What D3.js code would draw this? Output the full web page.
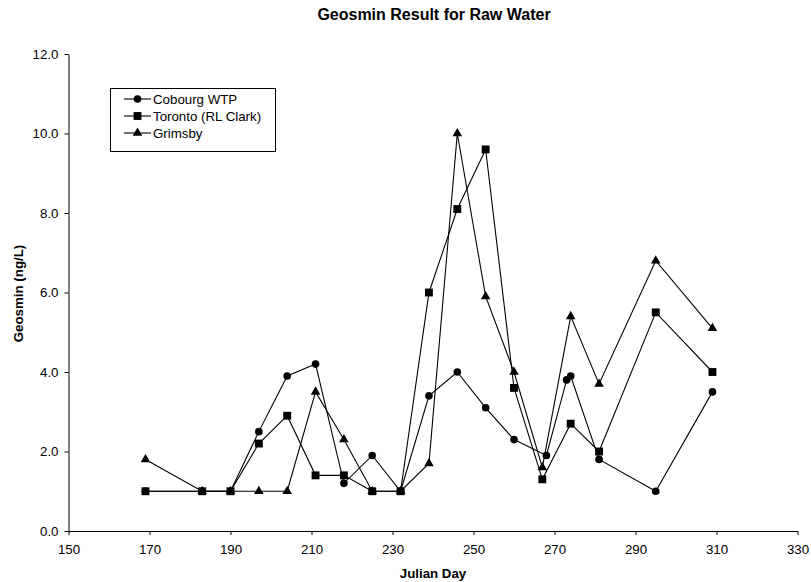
<!DOCTYPE html>
<html><head><meta charset="utf-8">
<script src="https://cdn.jsdelivr.net/npm/d3@7"></script>
<style>body{margin:0;background:#fff}svg{display:block}text{font-family:"Liberation Sans",Arial,sans-serif;fill:#000}</style>
</head><body><svg id="c" width="811" height="582"></svg>
<script>
const cobourgDays = [169,183,190,197,204,211,218,225,232,239,246,253,260,268,273,274,281,295,309];
const cobourgVals = [1.0,1.0,1.0,2.5,3.9,4.2,1.2,1.9,1.0,3.4,4.0,3.1,2.3,1.9,3.8,3.9,1.8,1.0,3.5];
const torontoDays = [169,183,190,197,204,211,218,225,232,239,246,253,260,267,274,281,295,309];
const torontoVals = [1.0,1.0,1.0,2.2,2.9,1.4,1.4,1.0,1.0,6.0,8.1,9.6,3.6,1.3,2.7,2.0,5.5,4.0];
const grimsbyDays = [169,183,190,197,204,211,218,225,232,239,246,253,260,267,274,281,295,309];
const grimsbyVals = [1.8,1.0,1.0,1.0,1.0,3.5,2.3,1.0,1.0,1.7,10.0,5.9,4.0,1.6,5.4,3.7,6.8,5.1];
const seriesNames = ["Cobourg WTP","Toronto (RL Clark)","Grimsby"];
const xTicks = [150,170,190,210,230,250,270,290,310,330];
const yTicks = [0,2,4,6,8,10,12];

const series = [
  {name: seriesNames[0], days: cobourgDays, vals: cobourgVals, shape: d3.symbolCircle, size: 46},
  {name: seriesNames[1], days: torontoDays, vals: torontoVals, shape: d3.symbolSquare, size: 62},
  {name: seriesNames[2], days: grimsbyDays, vals: grimsbyVals, shape: d3.symbolTriangle, size: 40}
];

const svg = d3.select("#c");
const L = 68.5, R = 797.5, T = 54, B = 531;
const x = d3.scaleLinear().domain([150,330]).range([L,R]);
const y = d3.scaleLinear().domain([0,12]).range([B,T]);

svg.append("text").attr("x",434).attr("y",20).attr("text-anchor","middle")
  .style("font-weight","bold").style("font-size","16px").text("Geosmin Result for Raw Water");

const xa = svg.append("g").attr("transform",`translate(0,${B})`)
  .call(d3.axisBottom(x).tickValues(xTicks).tickSize(4).tickSizeOuter(0).tickPadding(10).tickFormat(d3.format("d")));
const ya = svg.append("g").attr("transform",`translate(${L},0)`)
  .call(d3.axisLeft(y).tickValues(yTicks).tickSize(4).tickSizeOuter(0).tickPadding(6).tickFormat(d3.format(".1f")));
[xa,ya].forEach(a=>{
  a.selectAll("path,line").attr("stroke","#000").attr("stroke-width",1);
  a.selectAll("text").style("font-size","13.3px").style("font-family","'Liberation Sans',Arial,sans-serif");
});

svg.append("text").attr("x",433).attr("y",578).attr("text-anchor","middle")
  .style("font-weight","bold").style("font-size","13.3px").text("Julian Day");
svg.append("text").attr("transform",`translate(23,293.5) rotate(-90)`).attr("text-anchor","middle")
  .style("font-weight","bold").style("font-size","13.3px").text("Geosmin (ng/L)");

const line = d3.line().x(d=>x(d[0])).y(d=>y(d[1]));
series.forEach(s=>{
  const pts = s.days.map((d,i)=>[d,s.vals[i]]);
  svg.append("path").datum(pts).attr("d",line).attr("fill","none").attr("stroke","#000").attr("stroke-width",1.1);
  svg.append("g").selectAll("path").data(pts).join("path")
    .attr("transform",d=>`translate(${x(d[0])},${y(d[1])})`)
    .attr("d",d3.symbol().type(s.shape).size(s.size)).attr("fill","#000");
});

// legend
const lg = svg.append("g");
lg.append("rect").attr("x",110.5).attr("y",88.5).attr("width",165).attr("height",63)
  .attr("fill","#fff").attr("stroke","#000").attr("stroke-width",1);
series.forEach((s,i)=>{
  const cy = 99 + i*17;
  lg.append("line").attr("x1",124).attr("x2",151).attr("y1",cy).attr("y2",cy).attr("stroke","#000").attr("stroke-width",1.1);
  lg.append("path").attr("transform",`translate(137.5,${cy})`).attr("d",d3.symbol().type(s.shape).size(s.size)).attr("fill","#000");
  lg.append("text").attr("x",153).attr("y",cy+4.5).style("font-size","13.3px").text(s.name);
});
</script></body></html>
